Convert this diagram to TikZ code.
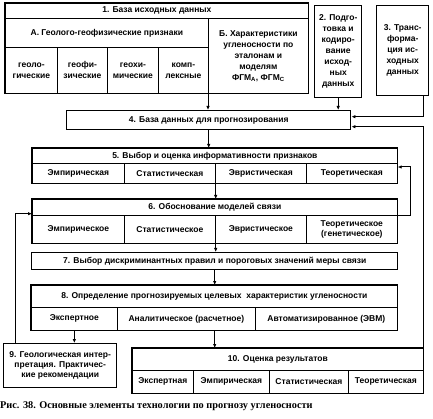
\documentclass[tikz,border=0pt]{standalone}
\usepackage{fontspec}
\setmainfont{Liberation Sans}
\newfontfamily\capfont{Liberation Serif}
\usetikzlibrary{arrows.meta}

\begin{document}
\begin{tikzpicture}[x=1pt,y=-1pt,
  box/.style={draw, line width=0.7pt, anchor=north west, inner sep=1pt, align=center,
    font=\fontsize{8.5}{11}\selectfont\bfseries},
  frame/.style={line width=1.4pt},
  link/.style={line width=1pt, -{Latex[length=4pt,width=3.5pt]}}]
\useasboundingbox (0,0) rectangle (433,419);

% 1. source data
\node[box, minimum width=303pt, minimum height=15pt] (h1) at (5,3) {1. База исходных данных};
\node[box, minimum width=203pt, minimum height=29pt] (hA) at (5,18) {А. Геолого-геофизические признаки};
\node[box, minimum width=100pt, minimum height=75pt] (hB) at (208,18) {Б. Характеристики\\угленосности по\\эталонам и\\моделям\\ФГМ\textsubscript{А}, ФГМ\textsubscript{С}};
\node[box, minimum width=52pt, minimum height=46pt] (cA1) at (5,47) {геоло-\\гические};
\node[box, minimum width=50pt, minimum height=46pt] (cA2) at (57,47) {геофи-\\зические};
\node[box, minimum width=51pt, minimum height=46pt] (cA3) at (107,47) {геохи-\\мические};
\node[box, minimum width=50pt, minimum height=46pt] (cA4) at (158,47) {комп-\\лексные};
\draw[frame] (h1.north west) rectangle (hB.south east);

% 2, 3
\node[box, frame, minimum width=47pt, minimum height=92pt] (b2) at (314,5) {2. Подго-\\товка и\\кодиро-\\вание\\исход-\\ных\\данных};
\node[box, frame, minimum width=52pt, minimum height=90pt] (b3) at (376,5) {3. Транс-\\форма-\\ция ис-\\ходных\\данных};

% 4
\node[box, frame, minimum width=284pt, minimum height=19pt] (b4) at (66,110) {4. База данных для прогнозирования};

% 5
\node[box, minimum width=365pt, minimum height=15pt] (h5) at (32,148) {5. Выбор и оценка информативности признаков};
\node[box, minimum width=92pt, minimum height=20pt] (c51) at (32,163) {Эмпирическая};
\node[box, minimum width=91pt, minimum height=20pt] (c52) at (124,163) {Статистическая};
\node[box, minimum width=91pt, minimum height=20pt] (c53) at (215,163) {Эвристическая};
\node[box, minimum width=91pt, minimum height=20pt] (c54) at (306,163) {Теоретическая};
\draw[frame] (h5.north west) rectangle (c54.south east);

% 6
\node[box, minimum width=365pt, minimum height=16pt] (h6) at (32,199) {6. Обоснование моделей связи};
\node[box, minimum width=92pt, minimum height=28pt] (c61) at (32,215) {Эмпирическое};
\node[box, minimum width=91pt, minimum height=28pt] (c62) at (124,215) {Статистическое};
\node[box, minimum width=91pt, minimum height=28pt] (c63) at (215,215) {Эвристическое};
\node[box, minimum width=91pt, minimum height=28pt, font=\fontsize{8.5}{9.5}\selectfont\bfseries] (c64) at (306,215) {Теоретическое\\(генетическое)};
\draw[frame] (h6.north west) rectangle (c64.south east);

% 7
\node[box, frame, minimum width=366pt, minimum height=17pt] (b7) at (31,252) {7. Выбор дискриминантных правил и пороговых значений меры связи};

% 8
\node[box, minimum width=366pt, minimum height=22pt] (h8) at (31,285) {8. Определение прогнозируемых целевых\ \ характеристик угленосности};
\node[box, minimum width=86pt, minimum height=23pt] (c81) at (31,307) {Экспертное};
\node[box, minimum width=138pt, minimum height=23pt] (c82) at (117,307) {Аналитическое (расчетное)};
\node[box, minimum width=142pt, minimum height=23pt] (c83) at (255,307) {Автоматизированное (ЭВМ)};
\draw[frame] (h8.north west) rectangle (c83.south east);

% 9
\node[box, frame, minimum width=113pt, minimum height=44pt, font=\fontsize{8.5}{10}\selectfont\bfseries] (b9) at (3,343) {9. Геологическая интер-\\претация. Практичес-\\кие рекомендации};

% 10
\node[box, minimum width=291pt, minimum height=22pt] (h10) at (132,348) {10. Оценка результатов};
\node[box, minimum width=61pt, minimum height=23pt] (c101) at (132,370) {Экспертная};
\node[box, minimum width=76pt, minimum height=23pt] (c102) at (193,370) {Эмпирическая};
\node[box, minimum width=79pt, minimum height=23pt] (c103) at (269,370) {Статистическая};
\node[box, minimum width=75pt, minimum height=23pt] (c104) at (348,370) {Теоретическая};
\draw[frame] (h10.north west) rectangle (c104.south east);

% arrows
\draw[link] (hB.south west) -- (hB.south west |- b4.north);
\draw[link] (b2.south) -- (b2.south |- b4.north);
\draw[link] ([xshift=-6pt]b3.south east) |- ([yshift=3.5pt]b4.east);
\draw[link] (h10.north east) |- ([yshift=-6.5pt]b4.east);
\draw[link] (b4.south) -- (b4.south |- h5.north);
\draw[link] (c52.south east) -- (c52.south east |- h6.north);
\draw[link] (h6.south east) -- ++(13,0) |- ([yshift=-4pt]c54.north east);
\draw[link] (c62.south east) -- (c62.south east |- b7.north);
\draw[link] (b7.south) -- (b7.south |- h8.north);
\draw[link] (c81.south) -- (c81.south |- b9.north);
\draw[link] (b7.south |- c82.south) -- (b7.south |- h10.north);
\draw[link] ([xshift=12pt]b9.north west) |- ([yshift=2pt]h6.south west);

\node[anchor=west, inner sep=0pt, font=\fontsize{10.3}{12}\capfont\bfseries] (cap) at (0,406) {Рис. 38. Основные элементы технологии по прогнозу угленосности};
\end{tikzpicture}
\end{document}
